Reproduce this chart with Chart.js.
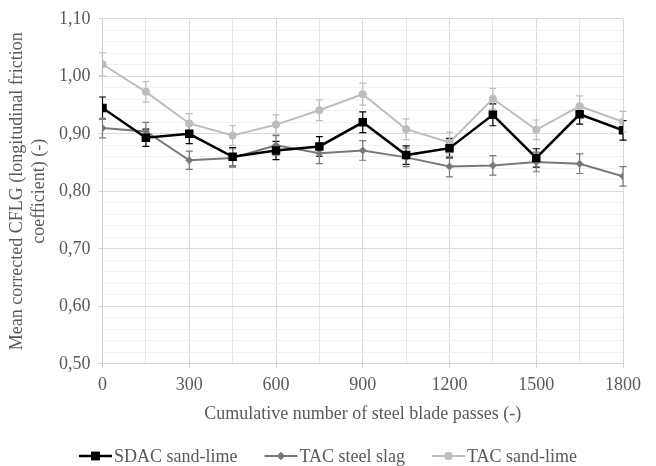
<!DOCTYPE html>
<html>
<head>
<meta charset="utf-8">
<script src="https://cdn.jsdelivr.net/npm/chart.js@4/dist/chart.umd.min.js"></script>
<style>
    html, body { margin: 0; padding: 0; background: #fff; }
    #wrap { width: 656px; height: 466px; }
</style>
</head>
<body>
<div id="wrap"><canvas id="chartCFLG"></canvas></div>
<script>
// passagens acumuladas da lâmina (eixo x)
const passagens = [0, 150, 300, 450, 600, 750, 900, 1050, 1200, 1350, 1500, 1650, 1800];
const ticksY = [0.5, 0.6, 0.7, 0.8, 0.9, 1.0, 1.1];

const sdacSandLime = [0.945, 0.893, 0.900, 0.860, 0.871, 0.878, 0.920, 0.863, 0.875, 0.933, 0.858, 0.934, 0.906];
const sdacSandLimeErro = [0.019, 0.015, 0.017, 0.016, 0.016, 0.017, 0.018, 0.016, 0.017, 0.019, 0.016, 0.017, 0.017];

const tacSteelSlag = [0.910, 0.904, 0.854, 0.858, 0.880, 0.866, 0.871, 0.859, 0.843, 0.845, 0.851, 0.848, 0.826];
const tacSteelSlagErro = [0.017, 0.016, 0.016, 0.016, 0.017, 0.018, 0.017, 0.016, 0.018, 0.017, 0.017, 0.017, 0.017];

const tacSandLime = [1.021, 0.973, 0.918, 0.897, 0.916, 0.941, 0.969, 0.908, 0.885, 0.961, 0.907, 0.948, 0.921];
const tacSandLimeErro = [0.020, 0.018, 0.017, 0.017, 0.017, 0.018, 0.019, 0.018, 0.018, 0.018, 0.017, 0.018, 0.018];

const corTexto = '#595959';
const fonte = { family: '"Liberation Serif", "Times New Roman", serif', size: 18 };

function pontos(valores) {
    return valores.map((v, i) => ({ x: passagens[i], y: v }));
}

function virgula(v) {
    return v.toFixed(2).replace('.', ',');
}

function ehPrincipalY(v) {
    return Math.round(v * 100) % 10 === 0;
}

// barras de erro desenhadas com as escalas do gráfico
const barrasErro = {
    id: 'barrasErro',
    beforeDatasetsDraw(chart) {
        const ctx = chart.ctx;
        const sx = chart.scales.x;
        const sy = chart.scales.y;
        chart.data.datasets.forEach(ds => {
            ctx.save();
            ctx.strokeStyle = ds.borderColor;
            ctx.lineWidth = 1.2;
            ds.data.forEach((p, j) => {
                const px = sx.getPixelForValue(p.x);
                const topo = sy.getPixelForValue(p.y + ds.erro[j]);
                const base = sy.getPixelForValue(p.y - ds.erro[j]);
                ctx.beginPath();
                ctx.moveTo(px, topo);
                ctx.lineTo(px, base);
                ctx.moveTo(px - 3.5, topo);
                ctx.lineTo(px + 3.5, topo);
                ctx.moveTo(px - 3.5, base);
                ctx.lineTo(px + 3.5, base);
                ctx.stroke();
            });
            ctx.restore();
        });
    }
};

// legenda no estilo linha + marcador, centrada
const legendaLinha = {
    id: 'legendaLinha',
    afterDraw(chart) {
        const ctx = chart.ctx;
        const linha = 33, gapTexto = 2, gapItem = 27;
        const y = 456;
        ctx.save();
        ctx.font = fonte.size + 'px ' + fonte.family;
        ctx.textBaseline = 'middle';
        const larguras = chart.data.datasets.map(ds => ctx.measureText(ds.label).width);
        const total = larguras.reduce((a, w) => a + linha + gapTexto + w, 0) + gapItem * (larguras.length - 1);
        let x = (chart.width - total) / 2;
        chart.data.datasets.forEach((ds, i) => {
            ctx.strokeStyle = ds.borderColor;
            ctx.lineWidth = ds.borderWidth;
            ctx.beginPath();
            ctx.moveTo(x, y);
            ctx.lineTo(x + linha, y);
            ctx.stroke();
            ctx.fillStyle = ds.backgroundColor;
            Chart.helpers.drawPoint(ctx, {
                pointStyle: ds.pointStyle,
                radius: ds.pointRadius,
                rotation: 0,
                borderWidth: 0
            }, x + linha / 2, y);
            ctx.fill();
            ctx.fillStyle = corTexto;
            ctx.fillText(ds.label, x + linha + gapTexto, y + 1);
            x += linha + gapTexto + larguras[i] + gapItem;
        });
        ctx.restore();
    }
};

const ctx = document.getElementById('chartCFLG');

new Chart(ctx, {
    type: 'line',
    data: {
        datasets: [{
            label: 'SDAC sand-lime',
            data: pontos(sdacSandLime),
            erro: sdacSandLimeErro,
            borderColor: '#000000',
            backgroundColor: '#000000',
            borderWidth: 2.5,
            pointStyle: 'rect',
            pointRadius: 6,
            pointBorderWidth: 0
        }, {
            label: 'TAC steel slag',
            data: pontos(tacSteelSlag),
            erro: tacSteelSlagErro,
            borderColor: '#787878',
            backgroundColor: '#787878',
            borderWidth: 2,
            pointStyle: 'rectRot',
            pointRadius: 4,
            pointBorderWidth: 0
        }, {
            label: 'TAC sand-lime',
            data: pontos(tacSandLime),
            erro: tacSandLimeErro,
            borderColor: '#bdbdbd',
            backgroundColor: '#bdbdbd',
            borderWidth: 2,
            pointStyle: 'circle',
            pointRadius: 4,
            pointBorderWidth: 0
        }]
    },
    options: {
        responsive: true,
        maintainAspectRatio: false,
        animation: false,
        layout: { padding: { top: 14, right: 33, bottom: 41, left: 6 } },
        plugins: {
            legend: { display: false },
            tooltip: { enabled: false }
        },
        scales: {
            x: {
                type: 'linear',
                min: 0,
                max: 1800,
                border: { color: '#d0d0d0' },
                grid: {
                    tickLength: 4,
                    color: c => (c.tick.value % 300 === 0 ? '#d9d9d9' : '#e6e6e6'),
                    tickColor: c => (c.tick.value % 300 === 0 ? '#d0d0d0' : 'rgba(0,0,0,0)')
                },
                ticks: {
                    stepSize: 150,
                    autoSkip: false,
                    maxRotation: 0,
                    color: corTexto,
                    font: fonte,
                    padding: 7,
                    callback: v => (v % 300 === 0 ? String(v) : '')
                },
                title: {
                    display: true,
                    text: 'Cumulative number of steel blade passes (-)',
                    color: corTexto,
                    font: fonte,
                    padding: { top: 0, bottom: 0 }
                }
            },
            y: {
                min: ticksY[0],
                max: ticksY[ticksY.length - 1],
                border: { color: '#d0d0d0' },
                grid: {
                    tickLength: 4,
                    color: c => (ehPrincipalY(c.tick.value) ? '#d9d9d9' : '#f1f1f1'),
                    tickColor: c => (ehPrincipalY(c.tick.value) ? '#d0d0d0' : 'rgba(0,0,0,0)')
                },
                ticks: {
                    stepSize: 0.02,
                    autoSkip: false,
                    color: corTexto,
                    font: fonte,
                    padding: 8,
                    callback: v => (ehPrincipalY(v) ? virgula(v) : '')
                },
                title: {
                    display: true,
                    text: ['Mean corrected CFLG (longitudinal friction', 'coefficient) (-)'],
                    color: corTexto,
                    font: { family: fonte.family, size: 18, lineHeight: 1.25 },
                    padding: { top: 0, bottom: 0 }
                }
            }
        }
    },
    plugins: [barrasErro, legendaLinha]
});
</script>
</body>
</html>
